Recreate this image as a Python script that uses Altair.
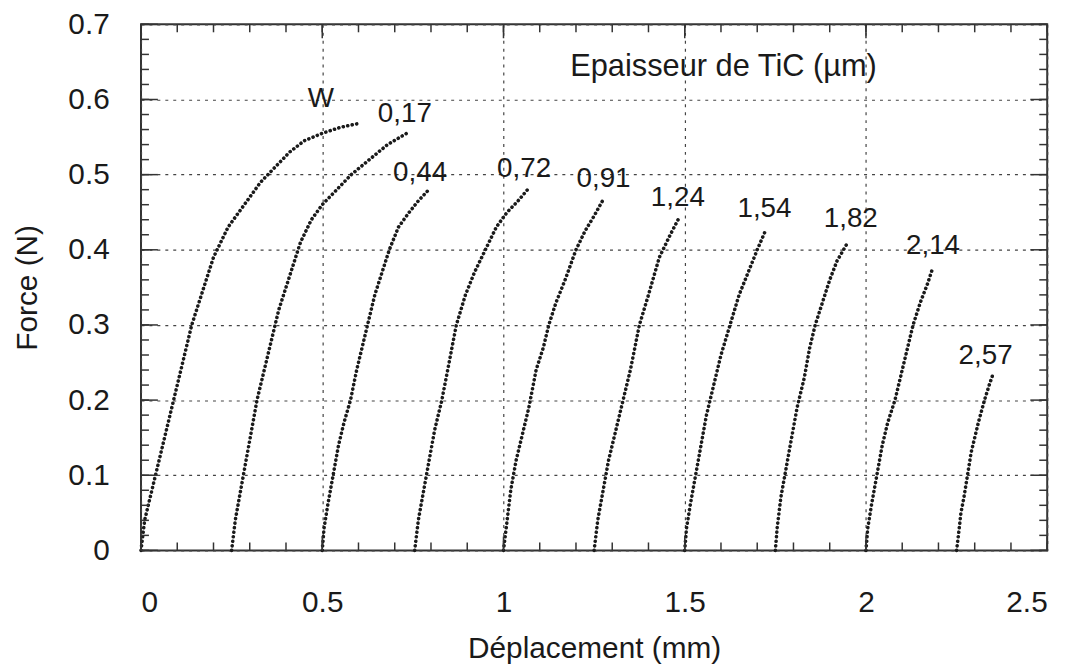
import altair as alt
import pandas as pd

# ---- curves (Déplacement mm, Force N) ----
w_x = [0.0, 0.005, 0.01, 0.02, 0.03, 0.04, 0.05, 0.065, 0.08, 0.095, 0.11, 0.125, 0.14, 0.16, 0.18, 0.2, 0.22, 0.24, 0.27, 0.3, 0.33, 0.37, 0.41, 0.45, 0.5, 0.55, 0.6]
w_y = [0.0, 0.02, 0.04, 0.06, 0.08, 0.1, 0.12, 0.15, 0.18, 0.21, 0.24, 0.27, 0.3, 0.33, 0.36, 0.39, 0.41, 0.43, 0.45, 0.47, 0.49, 0.51, 0.53, 0.545, 0.555, 0.563, 0.568]

c017_x = [0.25, 0.26, 0.275, 0.29, 0.305, 0.32, 0.34, 0.36, 0.38, 0.4, 0.42, 0.44, 0.47, 0.5, 0.54, 0.58, 0.63, 0.68, 0.74]
c017_y = [0.0, 0.04, 0.08, 0.12, 0.16, 0.2, 0.24, 0.28, 0.32, 0.35, 0.38, 0.41, 0.44, 0.46, 0.48, 0.5, 0.52, 0.54, 0.557]

c044_x = [0.5, 0.505, 0.515, 0.53, 0.545, 0.56, 0.578, 0.595, 0.61, 0.625, 0.645, 0.665, 0.685, 0.71, 0.74, 0.765, 0.79]
c044_y = [0.0, 0.03, 0.06, 0.1, 0.14, 0.17, 0.2, 0.24, 0.27, 0.3, 0.34, 0.37, 0.4, 0.43, 0.45, 0.465, 0.478]

c072_x = [0.755, 0.765, 0.78, 0.795, 0.81, 0.83, 0.85, 0.87, 0.895, 0.92, 0.95, 0.98, 1.01, 1.04, 1.068]
c072_y = [0.0, 0.04, 0.08, 0.12, 0.16, 0.2, 0.25, 0.3, 0.34, 0.37, 0.4, 0.43, 0.45, 0.465, 0.481]

c091_x = [1.0, 1.01, 1.02, 1.035, 1.05, 1.07, 1.09, 1.11, 1.125, 1.145, 1.17, 1.2, 1.225, 1.25, 1.273]
c091_y = [0.0, 0.04, 0.08, 0.12, 0.15, 0.19, 0.24, 0.27, 0.3, 0.33, 0.36, 0.4, 0.425, 0.445, 0.465]

c124_x = [1.25, 1.26, 1.275, 1.29, 1.31, 1.33, 1.35, 1.375, 1.4, 1.43, 1.46, 1.487]
c124_y = [0.0, 0.04, 0.08, 0.12, 0.16, 0.2, 0.24, 0.3, 0.34, 0.39, 0.42, 0.445]

c154_x = [1.5, 1.505, 1.515, 1.53, 1.545, 1.56, 1.58, 1.6, 1.625, 1.65, 1.675, 1.7, 1.725]
c154_y = [0.0, 0.03, 0.06, 0.1, 0.14, 0.18, 0.22, 0.26, 0.3, 0.34, 0.37, 0.4, 0.428]

c182_x = [1.75, 1.755, 1.765, 1.78, 1.795, 1.81, 1.83, 1.845, 1.86, 1.88, 1.9, 1.92, 1.95]
c182_y = [0.0, 0.03, 0.07, 0.11, 0.15, 0.19, 0.23, 0.27, 0.3, 0.33, 0.36, 0.385, 0.41]

c214_x = [2.0, 2.005, 2.015, 2.03, 2.045, 2.06, 2.08, 2.095, 2.11, 2.13, 2.15, 2.17, 2.185]
c214_y = [0.0, 0.03, 0.06, 0.1, 0.14, 0.17, 0.2, 0.23, 0.26, 0.3, 0.33, 0.355, 0.377]

c257_x = [2.25, 2.255, 2.262, 2.27, 2.28, 2.29, 2.3, 2.31, 2.327, 2.34, 2.35]
c257_y = [0.0, 0.02, 0.05, 0.07, 0.1, 0.13, 0.15, 0.17, 0.2, 0.22, 0.234]

series_names = ["W", "0,17", "0,44", "0,72", "0,91", "1,24", "1,54", "1,82", "2,14", "2,57"]
series_x = [w_x, c017_x, c044_x, c072_x, c091_x, c124_x, c154_x, c182_x, c214_x, c257_x]
series_y = [w_y, c017_y, c044_y, c072_y, c091_y, c124_y, c154_y, c182_y, c214_y, c257_y]

# label anchors (data coordinates)
label_x = [0.496, 0.728, 0.77, 1.057, 1.276, 1.481, 1.72, 1.958, 2.185, 2.33]
label_y = [0.600, 0.580, 0.502, 0.507, 0.494, 0.469, 0.454, 0.441, 0.405, 0.258]

legend_title = "Epaisseur de TiC (µm)"
legend_x = [1.607]
legend_y = [0.643]

x_major = [0, 0.5, 1, 1.5, 2, 2.5]
y_major = [0, 0.1, 0.2, 0.3, 0.4, 0.5, 0.6, 0.7]
x_minor = [0, 0.1, 0.2, 0.3, 0.4, 0.5, 0.6, 0.7, 0.8, 0.9, 1.0, 1.1, 1.2, 1.3, 1.4, 1.5,
           1.6, 1.7, 1.8, 1.9, 2.0, 2.1, 2.2, 2.3, 2.4, 2.5]
y_minor = [0, 0.02, 0.04, 0.06, 0.08, 0.1, 0.12, 0.14, 0.16, 0.18, 0.2, 0.22, 0.24, 0.26,
           0.28, 0.3, 0.32, 0.34, 0.36, 0.38, 0.4, 0.42, 0.44, 0.46, 0.48, 0.5, 0.52, 0.54,
           0.56, 0.58, 0.6, 0.62, 0.64, 0.66, 0.68, 0.7]

# ---- build tables ----
rows = []
for name, xs, ys in zip(series_names, series_x, series_y):
    for i, (a, b) in enumerate(zip(xs, ys)):
        rows.append({"series": name, "i": i, "x": a, "y": b})
df = pd.DataFrame(rows)
labels_df = pd.DataFrame({"x": label_x, "y": label_y, "t": series_names})
legend_df = pd.DataFrame({"x": legend_x, "y": legend_y, "t": [legend_title]})

FONT = "Liberation Sans"
INK = "#1a1a1a"
W, H = 913, 530

xscale = alt.Scale(domain=[0, 2.5], nice=False, zero=False)
yscale = alt.Scale(domain=[0, 0.7], nice=False, zero=False)

xaxis = alt.Axis(values=x_major, format=".1~f", title="Déplacement (mm)", grid=True,
                 ticks=False, tickSize=0, domain=False, labelPadding=38,
                 labelFontSize=30, labelFont=FONT, labelColor=INK,
                 titleFontSize=30, titleFont=FONT, titleColor=INK, titleFontWeight="normal",
                 titleY=99, titleBaseline="middle",
                 gridDash=[3, 5], gridColor="#444444", gridWidth=1.2, gridOpacity=1)
yaxis = alt.Axis(values=y_major, format=".1~f", title="Force (N)", grid=True,
                 ticks=False, tickSize=0, domain=False, labelPadding=32,
                 labelFontSize=30, labelFont=FONT, labelColor=INK, labelBaseline="middle",
                 titleFontSize=30, titleFont=FONT, titleColor=INK, titleFontWeight="normal",
                 titleX=-114, titleY=H / 2, titleBaseline="middle", titleAlign="center",
                 gridDash=[3, 5], gridColor="#444444", gridWidth=1.2, gridOpacity=1)

curves = alt.Chart(df).mark_line(
    strokeDash=[0.1, 4.5], strokeCap="round", strokeWidth=3.6, color=INK
).encode(
    x=alt.X("x:Q", scale=xscale, axis=xaxis),
    y=alt.Y("y:Q", scale=yscale, axis=yaxis),
    detail="series:N",
    order="i:Q",
)

labels = alt.Chart(labels_df).mark_text(
    font=FONT, fontSize=28, color=INK, align="center", baseline="middle"
).encode(
    x=alt.X("x:Q", scale=xscale, axis=xaxis),
    y=alt.Y("y:Q", scale=yscale, axis=yaxis),
    text="t:N",
)

legend = alt.Chart(legend_df).mark_text(
    font=FONT, fontSize=31, color=INK, align="center", baseline="middle"
).encode(
    x=alt.X("x:Q", scale=xscale, axis=xaxis),
    y=alt.Y("y:Q", scale=yscale, axis=yaxis),
    text="t:N",
)

def ytick(vals, x0, x1):
    return alt.Chart(pd.DataFrame({"y": vals})).mark_rule(color="#333333", strokeWidth=1.5).encode(
        y=alt.Y("y:Q", scale=yscale, axis=yaxis), x=alt.value(x0), x2=alt.value(x1))

def xtick(vals, y0, y1):
    return alt.Chart(pd.DataFrame({"x": vals})).mark_rule(color="#333333", strokeWidth=1.5).encode(
        x=alt.X("x:Q", scale=xscale, axis=xaxis), y=alt.value(y0), y2=alt.value(y1))

ticks = [
    ytick(y_minor, 0, 8), ytick(y_major, 0, 17),
    ytick(y_minor, W - 8, W), ytick(y_major, W - 17, W),
    xtick(x_minor, H - 8, H), xtick(x_major, H - 14, H),
    xtick(x_minor, 0, 8), xtick(x_major, 0, 14),
]

chart = alt.layer(curves, labels, legend, *ticks).properties(
    width=W, height=H,
    padding={"left": 134, "top": 14, "right": 28, "bottom": 114},
    autosize=alt.AutoSizeParams(type="none"),
    background="white",
).configure_view(stroke="#333333", strokeWidth=2)

chart.save("out.html", embed_options={"renderer": "svg", "actions": False})
